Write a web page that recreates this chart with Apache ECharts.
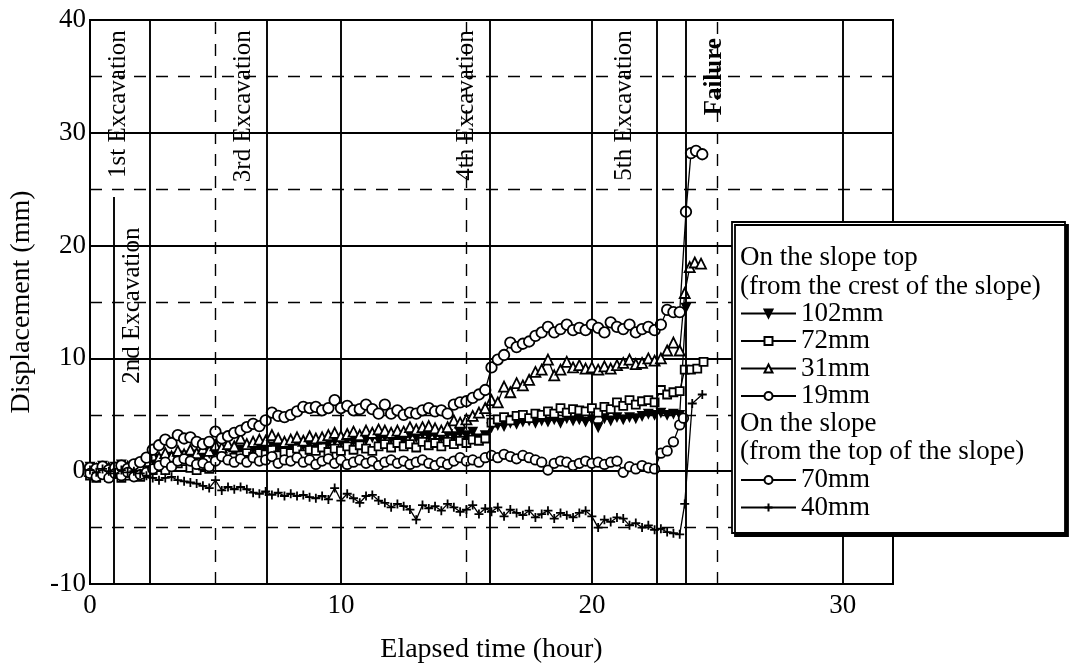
<!DOCTYPE html>
<html><head><meta charset="utf-8">
<script src="https://cdn.jsdelivr.net/npm/echarts@6/dist/echarts.min.js"></script>
<style>html,body{margin:0;padding:0;background:#fff}#c{width:1070px;height:670px}</style>
</head><body><div id="c"></div>
<script>
// ---------- DATA ----------
const hours = [
  0,0.25,0.5,0.75,1,1.25,1.5,1.75,
  2,2.25,2.5,2.75,3,3.25,3.5,3.75,
  4,4.25,4.5,4.75,5,5.25,5.5,5.75,
  6,6.25,6.5,6.75,7,7.25,7.5,7.75,
  8,8.25,8.5,8.75,9,9.25,9.5,9.75,
  10,10.25,10.5,10.75,11,11.25,11.5,11.75,
  12,12.25,12.5,12.75,13,13.25,13.5,13.75,
  14,14.25,14.5,14.75,15,15.25,15.5,15.75,
  16,16.25,16.5,16.75,17,17.25,17.5,17.75,
  18,18.25,18.5,18.75,19,19.25,19.5,19.75,
  20,20.25,20.5,20.75,21,21.25,21.5,21.75,
  22,22.25,22.5,22.75,23,23.25,23.5
];
// On the slope top (from the crest of the slope)
const d102 = [
  0.4,0.3,0.5,0.2,0.4,0.6,0.3,0.5,
  0.7,0.8,1.0,1.1,1.0,1.3,1.2,1.4,
  1.3,1.5,1.4,1.6,1.5,1.7,1.8,1.6,
  1.9,1.8,2.0,2.1,2.0,2.2,2.1,2.3,
  2.2,2.4,2.3,2.5,2.4,2.6,2.5,2.7,
  2.6,2.8,2.7,2.9,2.8,3.0,2.8,3.1,
  2.9,3.1,2.8,3.2,3.0,3.3,3.1,3.2,
  3.0,3.3,3.1,3.4,3.2,3.5,2.9,3.2,
  3.9,4.1,4.0,4.3,4.2,4.4,4.5,4.3,
  4.5,4.4,4.6,4.3,4.7,4.5,4.6,4.4,
  4.6,3.9,4.7,4.5,4.8,4.6,4.8,4.7,
  4.9,5.1,5.0,5.2,5.0,5.1,5.0
];
const t102 = [[23.75,14.5]];
const d72 = [
  -0.4,-0.6,-0.3,-0.5,-0.2,-0.6,-0.4,-0.3,
  -0.5,-0.2,0.1,0.4,0.1,0.6,0.7,0.9,
  0.3,0.1,0.5,0.2,1.1,1.3,1.5,1.2,
  1.4,1.7,1.3,1.6,1.5,1.9,1.4,1.7,
  1.6,2.0,1.5,1.9,1.8,2.1,1.7,2.0,
  1.8,2.2,1.9,2.3,2.0,1.8,2.2,2.4,
  2.1,2.5,2.2,2.4,2.1,2.6,2.3,2.5,
  2.2,2.6,2.4,2.7,2.5,2.8,2.7,2.9,
  4.3,4.6,4.8,4.5,4.9,5.0,4.7,5.1,
  5.0,5.3,5.1,5.6,5.2,5.5,5.4,5.3,
  5.6,5.2,5.7,5.5,6.1,5.8,6.3,5.9,
  6.2,6.3,6.1,7.2,6.8,7.0,7.1
];
const t72 = [[23.7,9.0],[23.95,9.0],[24.2,9.1],[24.45,9.7]];
const d31 = [
  0.0,0.2,-0.1,0.3,0.1,0.2,0.4,0.3,
  0.5,0.9,1.4,1.2,1.6,1.3,1.8,1.5,
  1.9,1.6,2.0,1.8,2.3,2.1,2.4,2.2,
  2.9,2.4,2.6,2.8,2.7,3.2,2.9,2.6,
  2.8,3.0,2.7,3.1,2.9,3.0,3.2,3.4,
  3.1,3.3,3.5,3.2,3.6,3.4,3.7,3.6,
  3.4,3.6,3.5,3.9,3.7,3.9,4.0,3.8,
  3.6,3.9,4.5,4.3,4.6,4.9,5.2,5.6,
  6.3,6.1,7.5,7.0,7.8,7.6,8.1,8.8,
  9.0,9.9,8.5,9.0,9.7,9.2,9.4,9.1,
  9.2,9.0,9.3,9.1,9.4,9.6,9.9,9.5,
  9.6,10.0,9.8,10.0,10.7,11.4,10.7
];
const t31 = [[23.7,15.8],[23.9,18.1],[24.1,18.5],[24.35,18.4]];
const d19 = [
  0.3,0.2,0.4,0.1,0.3,0.5,0.2,0.6,
  0.8,1.2,1.9,2.3,2.8,2.5,3.2,2.9,
  3.0,2.6,2.4,2.6,3.5,2.9,3.1,3.4,
  3.6,3.9,4.2,4.0,4.5,5.2,4.9,4.8,
  5.0,5.3,5.7,5.6,5.7,5.4,5.6,6.3,
  5.6,5.8,5.4,5.5,5.9,5.5,5.1,5.9,
  5.1,5.4,5.0,5.2,5.1,5.4,5.6,5.3,
  5.4,5.1,5.9,6.1,6.2,6.5,6.8,7.2,
  9.2,9.9,10.3,11.4,11.0,11.3,11.5,12.0,
  12.3,12.8,12.3,12.6,13.0,12.5,12.7,12.5,
  13.0,12.7,12.3,13.2,12.8,12.6,13.0,12.3,
  12.6,12.8,12.5,13.0,14.3,14.1,14.1
];
const t19 = [[23.75,23.0],[23.95,28.2],[24.15,28.4],[24.4,28.1]];
// On the slope (from the top of the slope)
const d70 = [
  -0.2,-0.5,-0.3,-0.6,-0.2,-0.4,-0.1,-0.5,
  -0.3,-0.1,0.2,0.5,0.8,0.4,0.9,1.1,
  0.9,0.6,0.7,0.4,0.9,1.3,1.0,0.8,
  1.1,0.8,1.2,0.9,1.0,1.3,0.7,1.0,
  0.9,1.2,0.8,1.0,0.6,0.9,1.1,0.7,
  1.0,0.6,0.8,1.0,0.7,0.9,0.5,0.8,
  1.0,0.7,0.9,0.6,0.8,1.0,0.7,0.5,
  0.8,0.6,0.9,1.2,0.9,1.0,0.8,1.2,
  1.4,1.2,1.5,1.3,1.1,1.4,1.2,1.0,
  0.8,0.1,0.7,0.9,0.8,0.5,0.7,0.9,
  0.7,0.8,0.6,0.8,0.9,-0.1,0.4,0.2,
  0.5,0.3,0.2,1.6,1.8,2.6,4.1
];
const t70 = [[23.65,4.7]];
const d40 = [
  0.1,-0.1,0.2,0.0,-0.2,0.1,-0.1,0.0,
  -0.2,-0.4,-0.6,-0.8,-0.6,-0.5,-0.8,-0.9,
  -1.0,-1.1,-1.3,-1.5,-0.8,-1.7,-1.4,-1.6,
  -1.4,-1.6,-1.9,-2.0,-1.8,-2.1,-1.9,-2.2,
  -2.0,-2.2,-2.1,-2.3,-2.4,-2.2,-2.5,-1.5,
  -2.6,-2.0,-2.4,-2.8,-2.2,-2.1,-2.6,-2.8,
  -3.2,-2.9,-3.1,-3.4,-4.3,-3.0,-3.3,-3.1,
  -3.5,-2.9,-3.2,-3.6,-3.4,-3.0,-3.8,-3.3,
  -3.6,-3.2,-4.0,-3.4,-3.7,-3.9,-3.5,-4.1,
  -3.8,-3.5,-4.2,-3.7,-3.9,-4.1,-3.7,-3.5,
  -4.0,-5.0,-4.3,-4.5,-4.1,-4.2,-4.8,-4.6,
  -5.0,-4.8,-5.2,-5.1,-5.4,-5.5,-5.6
];
const t40 = [[23.7,-2.9],[24.0,6.0],[24.4,6.8]];

const seriesNames = ['102mm','72mm','31mm','19mm','70mm','40mm'];
const eventHours = [0.93, 2.39, 7.04, 15.95, 22.6, 23.75];
const eventLabels = ['1st Excavation','2nd Excavation','3rd Excavation','4th Excavation','5th Excavation','Failure'];
const firstEventTop = 24.3;
const xTicks = [0,10,20,30];
const yTicks = [-10,0,10,20,30,40];
const dashedX = [5,15,25];

// ---------- LAYOUT / STYLE ----------
const FONT = '"Liberation Serif","Times New Roman",serif';
const labelAnchors = [[1.12,39.1],[1.7,21.6],[6.1,39.1],[15.0,39.1],[21.3,39.1],[24.9,38.4]];

function pts(vals, tail){ return hours.map((h,i)=>[h, vals[i]]).concat(tail); }
function mk(name, vals, tail, symbol, size, fill, extra){
  return Object.assign({
    name, type:'line', data: pts(vals, tail), symbol, symbolSize:size,
    showAllSymbol:true, animation:false, z:3,
    lineStyle:{color:'#000', width:1.3},
    itemStyle:{color:fill, borderColor:'#000', borderWidth:1.8}
  }, extra||{});
}
const series = [
  mk('102mm', d102, t102, 'triangle', 8, '#000', {symbolRotate:180}),
  mk('72mm', d72, t72, 'rect', 8, '#fff'),
  mk('31mm', d31, t31, 'triangle', 10, '#fff'),
  mk('19mm', d19, t19, 'circle', 10.5, '#fff'),
  mk('70mm', d70, t70, 'circle', 9.5, '#fff'),
  mk('40mm', d40, t40, 'path://M0,5L10,5M5,0L5,10', 9, '#000')
];
const mlData = [];
dashedX.forEach(v=>mlData.push({xAxis:v, lineStyle:{type:[12,10], width:1.4, color:'#000'}}));
eventHours.forEach((h,i)=>{
  if(i===0) mlData.push([{coord:[h,-10]},{coord:[h,firstEventTop]}]);
  else mlData.push({xAxis:h});
});
series.push({
  name:'_lines', type:'line', data:[], z:1, animation:false,
  markLine:{silent:true, symbol:['none','none'], animation:false, label:{show:false},
    lineStyle:{color:'#000', width:1.9, type:'solid'}, data: mlData}
});

const chart = echarts.init(document.getElementById('c'));
const legendCommon = {
  orient:'vertical', left:740, itemWidth:55, itemHeight:10, itemGap:0.5, padding:0,
  selectedMode:false, z:10,
  textStyle:{fontFamily:FONT, fontSize:27, color:'#000', lineHeight:27}
};
chart.setOption({
  backgroundColor:'#fff',
  animation:false,
  grid:{left:90, right:177, top:20, bottom:86, show:true, borderColor:'#000', borderWidth:2},
  xAxis:{type:'value', min:0, max:32, interval:10,
    axisLine:{show:false}, axisTick:{show:false},
    splitLine:{show:true, lineStyle:{color:'#000', width:1.9}},
    axisLabel:{fontFamily:FONT, fontSize:27, color:'#000', margin:8,
      formatter:v=> xTicks.indexOf(v)>=0 ? String(v) : ''},
    name:'Elapsed time (hour)', nameLocation:'middle', nameGap:52,
    nameTextStyle:{fontFamily:FONT, fontSize:28, color:'#000'}},
  yAxis:{type:'value', min:-10, max:40, interval:10,
    axisLine:{show:false}, axisTick:{show:false},
    splitLine:{show:true, lineStyle:{color:'#000', width:1.9}},
    minorTick:{show:false, splitNumber:2},
    minorSplitLine:{show:true, lineStyle:{color:'#000', width:1.4, type:[12,10]}},
    axisLabel:{fontFamily:FONT, fontSize:27, color:'#000', margin:4,
      formatter:v=> yTicks.indexOf(v)>=0 ? String(v) : ''},
    name:'Displacement (mm)', nameLocation:'middle', nameGap:54,
    nameTextStyle:{fontFamily:FONT, fontSize:28, color:'#000'}},
  legend:[
    Object.assign({}, legendCommon, {top:300, data:seriesNames.slice(0,4)}),
    Object.assign({}, legendCommon, {top:466.5, data:seriesNames.slice(4)})
  ],
  series
});

// graphics: legend box, headers and event labels
const g = [];
g.push({type:'rect', shape:{x:732, y:222, width:333, height:311}, z:5,
  style:{fill:'#fff', stroke:'#000', lineWidth:1.8, shadowColor:'#000', shadowOffsetX:3, shadowOffsetY:3, shadowBlur:0}});
[['On the slope top',258],['(from the crest of the slope)',287],['On the slope',424],['(from the top of the slope)',452]].forEach(([t,y])=>{
  g.push({type:'text', x:740, y:y, z:6, style:{text:t, font:'27px '+FONT, fill:'#000', align:'left', verticalAlign:'middle'}});
});
labelAnchors.forEach(([h,v],i)=>{
  const p = chart.convertToPixel({gridIndex:0}, [h,v]);
  g.push({type:'text', x:p[0], y:p[1], rotation:Math.PI/2, z:6,
    style:{text:eventLabels[i], font:(i===5?'bold ':'')+'25px '+FONT, fill:'#000', align:'right', verticalAlign:'middle'}});
});
chart.setOption({graphic:g});
</script>
</body></html>
